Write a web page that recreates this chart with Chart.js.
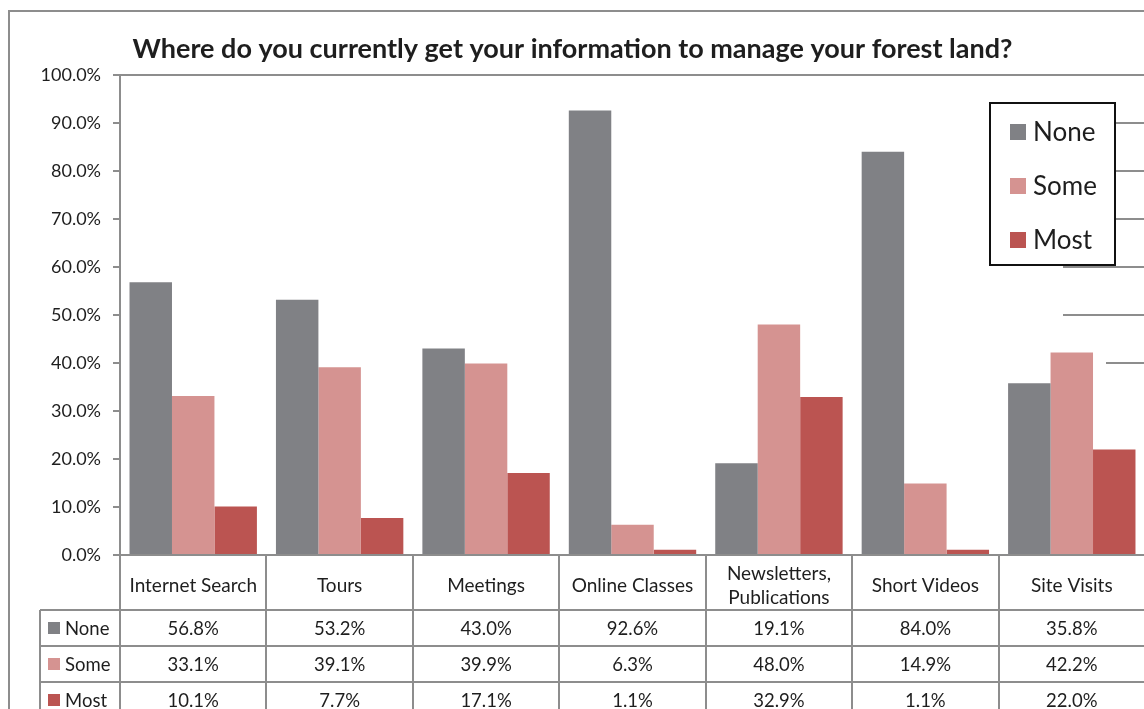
<!DOCTYPE html>
<html>
<head>
<meta charset="utf-8">
<script src="https://cdn.jsdelivr.net/npm/chart.js@4/dist/chart.umd.min.js"></script>
<style>
  html, body { margin: 0; padding: 0; background: #fff; overflow: hidden; }
  canvas { display: block; }
</style>
</head>
<body>
<canvas id="forestChart" width="1164" height="709"></canvas>
<script>
const categories = ['Internet Search', 'Tours', 'Meetings', 'Online Classes', ['Newsletters,', 'Publications'], 'Short Videos', 'Site Visits'];
const seriesNames = ['None', 'Some', 'Most'];
const noneValues = [56.8, 53.2, 43.0, 92.6, 19.1, 84.0, 35.8];
const someValues = [33.1, 39.1, 39.9, 6.3, 48.0, 14.9, 42.2];
const mostValues = [10.1, 7.7, 17.1, 1.1, 32.9, 1.1, 22.0];
const yTicks = [0, 10, 20, 30, 40, 50, 60, 70, 80, 90, 100];

const colors = ['#808185', '#d59391', '#bb5451'];
const lineGray = '#8d8d8d';
const textColor = '#1e1e1e';
const fontFamily = 'Lato, "Open Sans", sans-serif';

const pct = v => v.toFixed(1) + '%';

// frame, table under the axis, legend box
const decorations = {
    id: 'decorations',
    beforeDraw(chart) {
        const ctx = chart.ctx;
        ctx.save();
        ctx.strokeStyle = lineGray;
        ctx.lineWidth = 2;
        ctx.strokeRect(9, 11, 3000, 3000);
        ctx.restore();
    },
    afterDraw(chart) {
        const ctx = chart.ctx;
        const x = chart.scales.x;
        const y = chart.scales.y;
        const area = chart.chartArea;
        const n = categories.length;
        const w = (x.right - x.left) / n;
        const top = area.bottom;
        const headH = 55;
        const rowH = 36;
        const keyLeft = x.left - 80;
        const rows = [noneValues, someValues, mostValues];

        ctx.save();

        // leftover gridline stubs at the right edge
        ctx.strokeStyle = lineGray;
        ctx.lineWidth = 2;
        const stubs = [[90, 30], [80, 30], [70, 30], [60, 82], [50, 82], [40, 39]];
        stubs.forEach(s => {
            const yy = Math.round(y.getPixelForValue(s[0]));
            ctx.beginPath();
            ctx.moveTo(area.right - s[1], yy);
            ctx.lineTo(area.right + 20, yy);
            ctx.stroke();
        });

        // top border of the plot
        ctx.beginPath();
        ctx.moveTo(x.left - 7, area.top);
        ctx.lineTo(area.right + 20, area.top);
        ctx.stroke();

        // table grid
        for (let i = 0; i <= n; i++) {
            const xx = Math.round(x.left + i * w);
            ctx.beginPath();
            ctx.moveTo(xx, top);
            ctx.lineTo(xx, chart.height + 5);
            ctx.stroke();
        }
        ctx.beginPath();
        ctx.moveTo(keyLeft, top + headH);
        ctx.lineTo(keyLeft, chart.height + 5);
        ctx.stroke();
        for (let r = 0; r < 3; r++) {
            const yy = top + headH + r * rowH;
            ctx.beginPath();
            ctx.moveTo(keyLeft, yy);
            ctx.lineTo(x.right + 20, yy);
            ctx.stroke();
        }

        // header text
        ctx.fillStyle = textColor;
        ctx.font = '19px ' + fontFamily;
        ctx.textAlign = 'center';
        ctx.textBaseline = 'middle';
        categories.forEach((c, i) => {
            const cx = x.getPixelForValue(i);
            if (Array.isArray(c)) {
                ctx.fillText(c[0], cx, top + 19);
                ctx.fillText(c[1], cx, top + 43);
            } else {
                ctx.fillText(c, cx, top + 31);
            }
        });

        // value rows
        ctx.font = '18.5px ' + fontFamily;
        rows.forEach((vals, r) => {
            const cy = top + headH + r * rowH + 19;
            vals.forEach((v, i) => {
                ctx.fillText(pct(v), x.getPixelForValue(i), cy);
            });
            ctx.fillStyle = colors[r];
            ctx.fillRect(keyLeft + 8, cy - 7, 12, 12);
            ctx.fillStyle = textColor;
            ctx.textAlign = 'left';
            ctx.fillText(seriesNames[r], keyLeft + 25, cy);
            ctx.textAlign = 'center';
        });

        // legend box
        const lx = area.right - 155;
        const ly = area.top + 28;
        ctx.fillStyle = '#ffffff';
        ctx.fillRect(lx, ly, 125, 162);
        ctx.strokeStyle = '#111111';
        ctx.lineWidth = 2;
        ctx.strokeRect(lx, ly, 125, 162);
        ctx.font = '26px ' + fontFamily;
        ctx.textAlign = 'left';
        seriesNames.forEach((name, i) => {
            const cy = ly + 30 + i * 54;
            ctx.fillStyle = colors[i];
            ctx.fillRect(lx + 20, cy - 9, 16, 16);
            ctx.fillStyle = textColor;
            ctx.fillText(name, lx + 43, cy);
        });

        ctx.restore();
    }
};

const ctx = document.getElementById('forestChart').getContext('2d');

new Chart(ctx, {
    type: 'bar',
    data: {
        labels: categories,
        datasets: [
            { label: seriesNames[0], data: noneValues, backgroundColor: colors[0] },
            { label: seriesNames[1], data: someValues, backgroundColor: colors[1] },
            { label: seriesNames[2], data: mostValues, backgroundColor: colors[2] }
        ]
    },
    options: {
        responsive: false,
        animation: false,
        devicePixelRatio: 1,
        layout: { padding: { left: 0, right: 19, top: 0, bottom: 0 } },
        datasets: {
            bar: { categoryPercentage: 0.87, barPercentage: 1.0 }
        },
        plugins: {
            legend: { display: false },
            tooltip: { enabled: false },
            title: {
                display: true,
                text: 'Where do you currently get your information to manage your forest land?',
                color: textColor,
                font: { family: fontFamily, size: 27, weight: 'bold', lineHeight: 1.2 },
                padding: { top: 33, bottom: 9.6 }
            }
        },
        scales: {
            x: {
                ticks: { display: false },
                grid: { display: false },
                border: { display: true, color: lineGray, width: 2 },
                afterFit(scale) { scale.height = 154; }
            },
            y: {
                min: 0,
                max: 100,
                afterBuildTicks(scale) { scale.ticks = yTicks.map(v => ({ value: v })); },
                ticks: {
                    color: textColor,
                    font: { family: fontFamily, size: 18 },
                    padding: 12,
                    callback: v => pct(v)
                },
                grid: { drawOnChartArea: false, drawTicks: true, tickLength: 7, color: lineGray, lineWidth: 2 },
                border: { color: lineGray, width: 2 },
                afterFit(scale) { scale.width = 120; }
            }
        }
    },
    plugins: [decorations]
});
</script>
</body>
</html>
